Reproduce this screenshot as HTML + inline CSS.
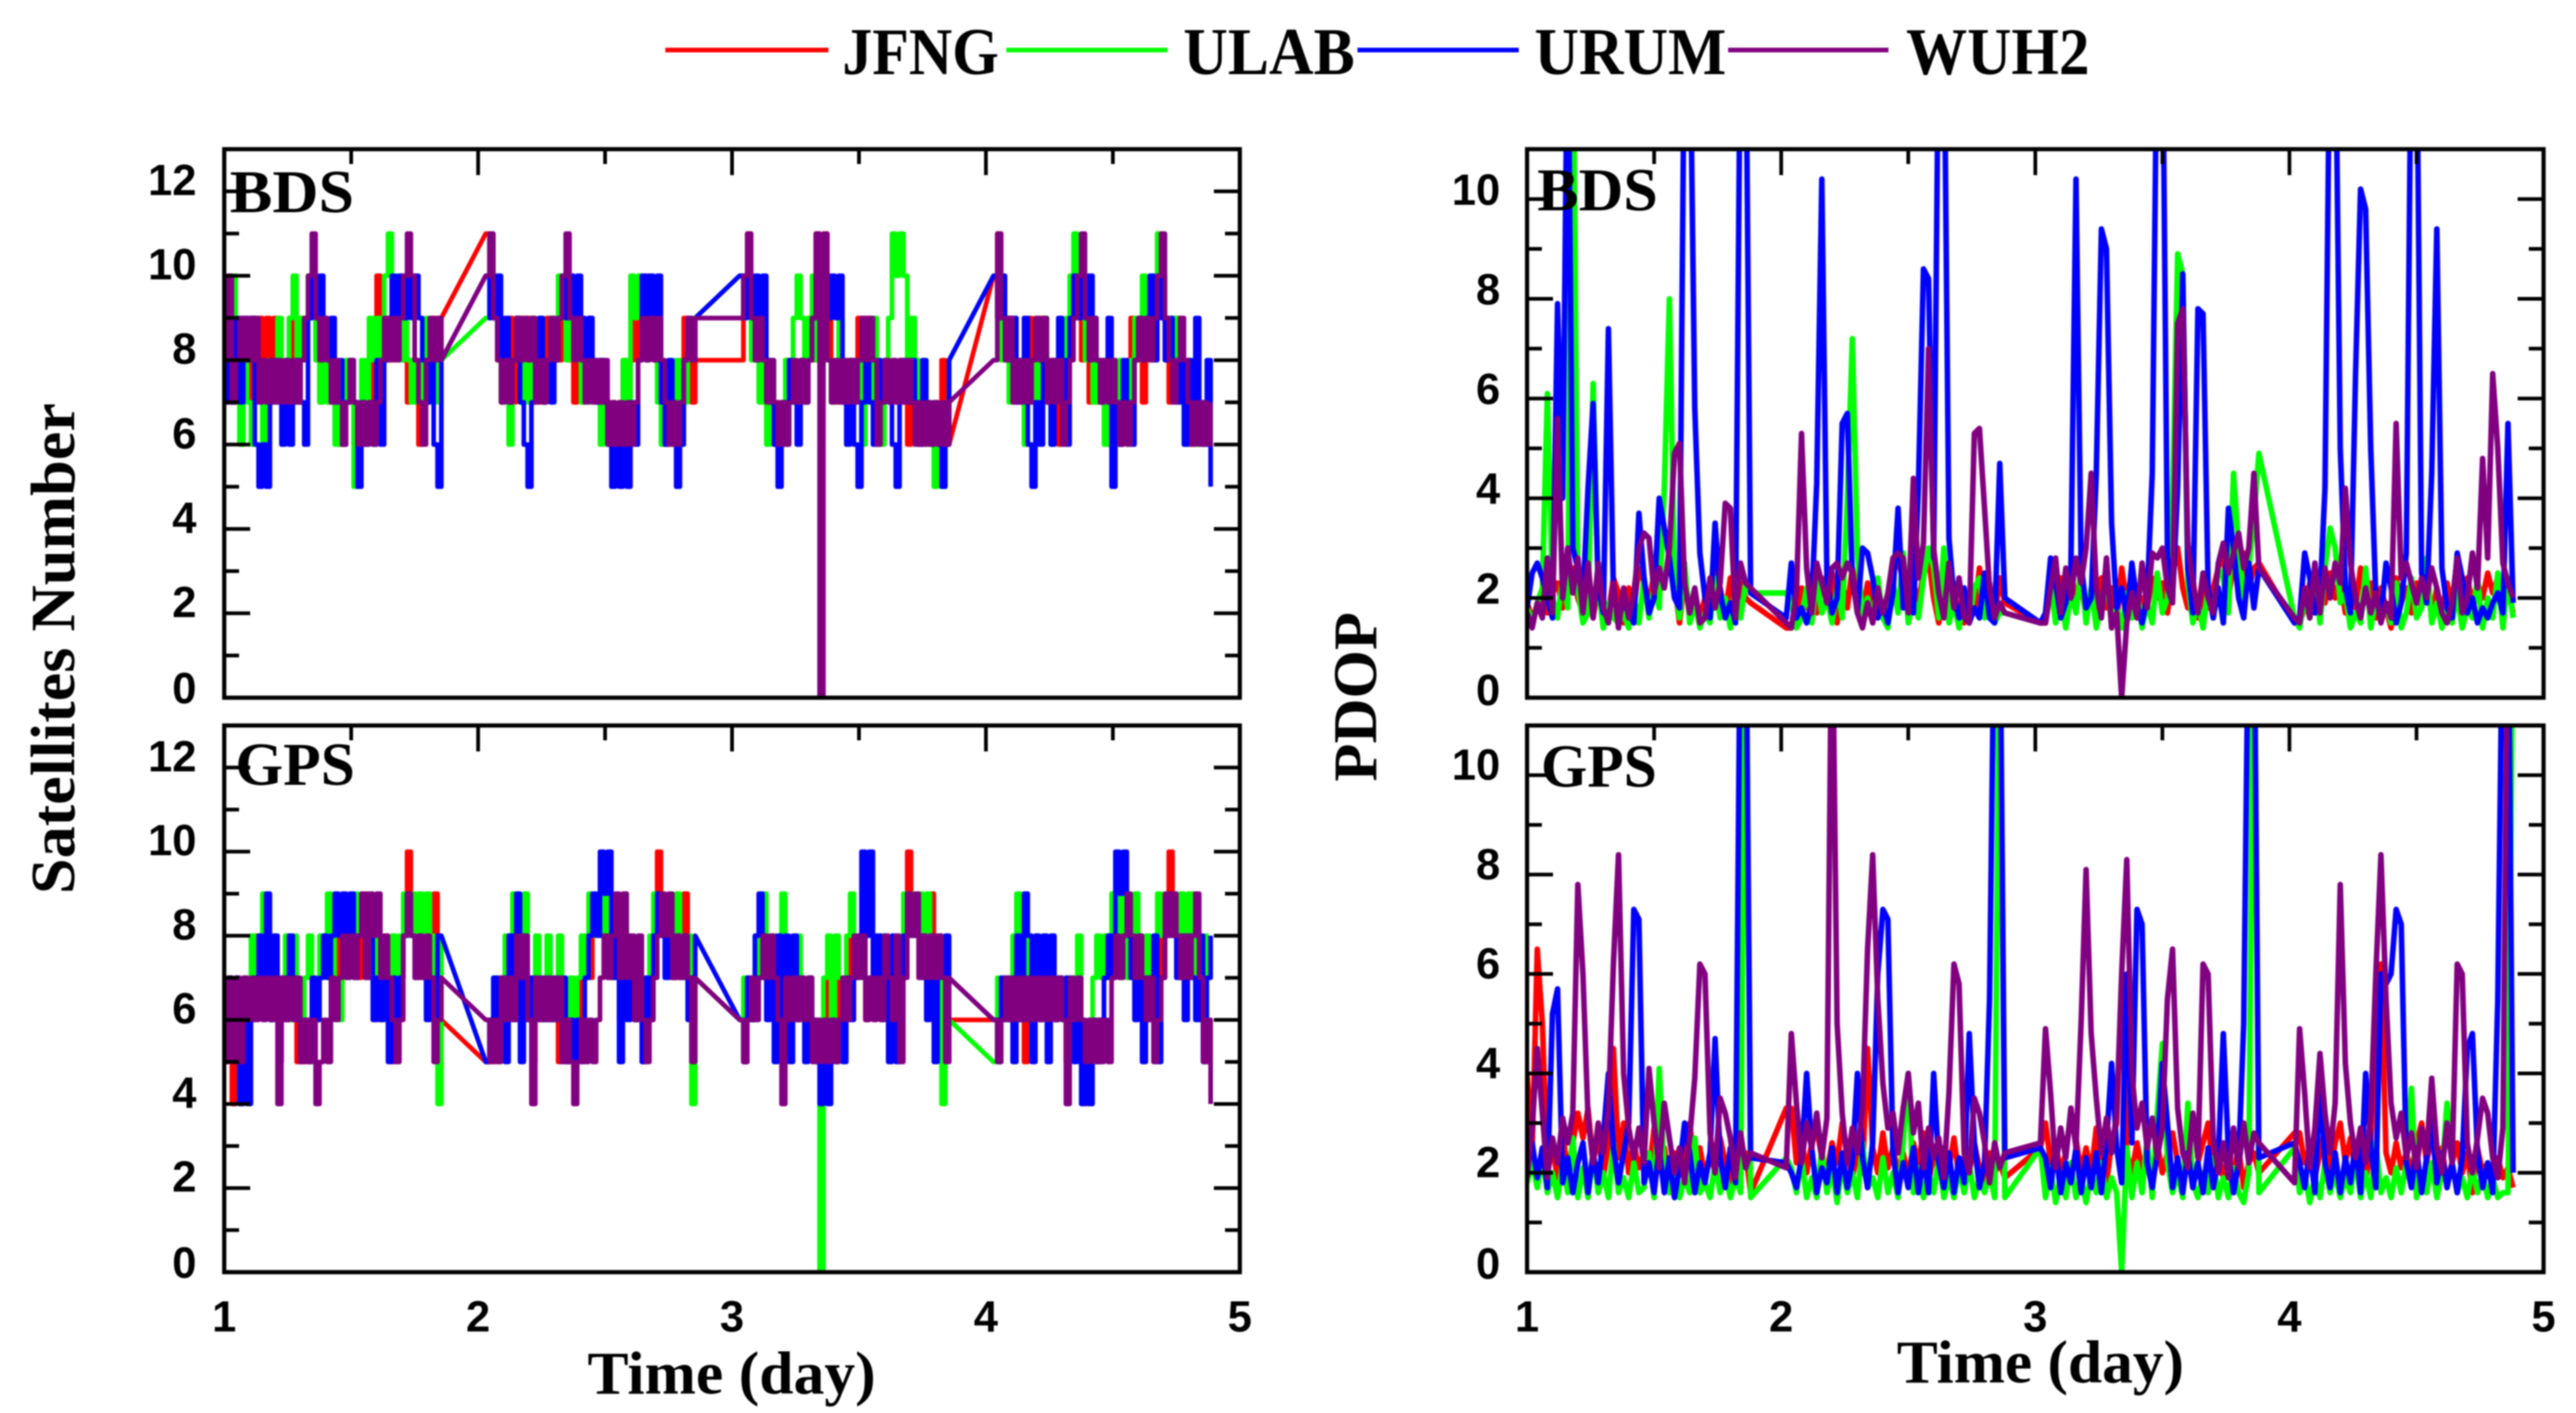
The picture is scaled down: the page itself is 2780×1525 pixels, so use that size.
<!DOCTYPE html>
<html lang="en">
<head>
<meta charset="utf-8">
<title>BDS and GPS satellite number and PDOP</title>
<style>
html,body{margin:0;padding:0;background:#fff}
body{width:2780px;height:1525px;overflow:hidden}
svg{display:block;filter:blur(0.7px)}
.serif{font-family:"Liberation Serif",serif;font-weight:bold;fill:#000}
</style>
</head>
<body>
<svg id="chart" xmlns="http://www.w3.org/2000/svg" width="2780" height="1525" viewBox="0 0 2780 1525">
<rect x="0" y="0" width="2780" height="1525" fill="#fff"/>
<g id="panels"></g>
<g>
<line x1="718" y1="54" x2="894" y2="54" stroke="#ff0000" stroke-width="5"/>
<text class="serif" x="909" y="80" font-size="72" textLength="169" lengthAdjust="spacingAndGlyphs">JFNG</text>
<line x1="1086" y1="54" x2="1260" y2="54" stroke="#00ff00" stroke-width="5"/>
<text class="serif" x="1277" y="80" font-size="72" textLength="185" lengthAdjust="spacingAndGlyphs">ULAB</text>
<line x1="1465" y1="54" x2="1639" y2="54" stroke="#0000ff" stroke-width="5"/>
<text class="serif" x="1656" y="80" font-size="72" textLength="207" lengthAdjust="spacingAndGlyphs">URUM</text>
<line x1="1865" y1="54" x2="2038" y2="54" stroke="#800080" stroke-width="5"/>
<text class="serif" x="2057" y="80" font-size="72" textLength="198" lengthAdjust="spacingAndGlyphs">WUH2</text>
</g>
<text class="serif" x="248" y="229" font-size="66" textLength="134" lengthAdjust="spacingAndGlyphs">BDS</text>
<text class="serif" x="1659" y="227" font-size="66" textLength="130" lengthAdjust="spacingAndGlyphs">BDS</text>
<text class="serif" x="254" y="847" font-size="66" textLength="129" lengthAdjust="spacingAndGlyphs">GPS</text>
<text class="serif" x="1663" y="849" font-size="66" textLength="125" lengthAdjust="spacingAndGlyphs">GPS</text>
<text class="serif" transform="translate(80 700) rotate(-90)" text-anchor="middle" font-size="68" textLength="530" lengthAdjust="spacingAndGlyphs">Satellites Number</text>
<text class="serif" transform="translate(1485 752) rotate(-90)" text-anchor="middle" font-size="67" textLength="183" lengthAdjust="spacingAndGlyphs">PDOP</text>
<text class="serif" x="634" y="1504" font-size="66" textLength="311" lengthAdjust="spacingAndGlyphs">Time (day)</text>
<text class="serif" x="2047" y="1492" font-size="66" textLength="310" lengthAdjust="spacingAndGlyphs">Time (day)</text>
</svg>
<script>
const seriesNames = ['JFNG', 'ULAB', 'URUM', 'WUH2'];
const dayTicks = [1, 2, 3, 4, 5];
const dayMinorTicks = [1.5, 2.5, 3.5, 4.5];
const satTicks = [0, 2, 4, 6, 8, 10, 12];
const satMinorTicks = [1, 3, 5, 7, 9, 11];
const pdopTicks = [0, 2, 4, 6, 8, 10];
const pdopMinorTicks = [1, 3, 5, 7, 9];

const satDays = [
1,1.015,1.03,1.045,1.06,1.075,1.09,1.105,1.12,1.135,1.15,1.165,1.18,1.195,1.21,1.225,1.24,1.255,1.27,1.285,1.3,1.315,1.33,1.345,1.36,1.375,1.39,1.405,1.42,1.435,1.45,1.465,1.48,1.495,1.51,1.525,1.54,1.555,1.57,1.585,1.6,1.615,1.63,1.645,1.66,1.675,1.69,1.705,1.72,1.735,1.75,1.765,1.78,1.795,1.81,1.825,1.84,1.855,
2.03,2.045,2.06,2.075,2.09,2.105,2.12,2.135,2.15,2.165,2.18,2.195,2.21,2.225,2.24,2.255,2.27,2.285,2.3,2.315,2.33,2.345,2.36,2.375,2.39,2.405,2.42,2.435,2.45,2.465,2.48,2.495,2.51,2.525,2.54,2.555,2.57,2.585,2.6,2.615,2.63,2.645,2.66,2.675,2.69,2.705,2.72,2.735,2.75,2.765,2.78,2.795,2.81,2.825,2.84,2.855,
3.03,3.045,3.06,3.075,3.09,3.105,3.12,3.135,3.15,3.165,3.18,3.195,3.21,3.225,3.24,3.255,3.27,3.285,3.3,3.315,3.33,3.345,3.36,3.375,3.39,3.405,3.42,3.435,3.45,3.465,3.48,3.495,3.51,3.525,3.54,3.555,3.57,3.585,3.6,3.615,3.63,3.645,3.66,3.675,3.69,3.705,3.72,3.735,3.75,3.765,3.78,3.795,3.81,3.825,3.84,3.855,
4.03,4.045,4.06,4.075,4.09,4.105,4.12,4.135,4.15,4.165,4.18,4.195,4.21,4.225,4.24,4.255,4.27,4.285,4.3,4.315,4.33,4.345,4.36,4.375,4.39,4.405,4.42,4.435,4.45,4.465,4.48,4.495,4.51,4.525,4.54,4.555,4.57,4.585,4.6,4.615,4.63,4.645,4.66,4.675,4.69,4.705,4.72,4.735,4.75,4.765,4.78,4.795,4.81,4.825,4.84,4.855,4.87,4.885];

const pdopDays = [
1,1.02,1.04,1.06,1.08,1.1,1.12,1.14,1.16,1.18,1.2,1.22,1.24,1.26,1.28,1.3,1.32,1.34,1.36,1.38,1.4,1.42,1.44,1.46,1.48,1.5,1.52,1.54,1.56,1.58,1.6,1.62,1.64,1.66,1.68,1.7,1.72,1.74,1.76,1.78,1.8,1.82,1.84,1.86,1.88,
2.02,2.04,2.06,2.08,2.1,2.12,2.14,2.16,2.18,2.2,2.22,2.24,2.26,2.28,2.3,2.32,2.34,2.36,2.38,2.4,2.42,2.44,2.46,2.48,2.5,2.52,2.54,2.56,2.58,2.6,2.62,2.64,2.66,2.68,2.7,2.72,2.74,2.76,2.78,2.8,2.82,2.84,2.86,2.88,
3.02,3.04,3.06,3.08,3.1,3.12,3.14,3.16,3.18,3.2,3.22,3.24,3.26,3.28,3.3,3.32,3.34,3.36,3.38,3.4,3.42,3.44,3.46,3.48,3.5,3.52,3.54,3.56,3.58,3.6,3.62,3.64,3.66,3.68,3.7,3.72,3.74,3.76,3.78,3.8,3.82,3.84,3.86,3.88,
4.02,4.04,4.06,4.08,4.1,4.12,4.14,4.16,4.18,4.2,4.22,4.24,4.26,4.28,4.3,4.32,4.34,4.36,4.38,4.4,4.42,4.44,4.46,4.48,4.5,4.52,4.54,4.56,4.58,4.6,4.62,4.64,4.66,4.68,4.7,4.72,4.74,4.76,4.78,4.8,4.82,4.84,4.86,4.88];

const bdsSatJFNG = [
8,7,9,8,7,8,7,9,8,9, 7,9,8,9,8,7,8,9,8,7, 9,8,9,10,8,7,8,7,8,7, 6,7,8,7,6,7,6,7,8,7, 10,9,8,9,8,10,9,8,7,8, 7,6,8,7,8,9,8,9,
11,10,9,8,7,8,9,7,8,9, 8,9,7,8,7,8,9,8,9,8, 10,9,8,7,8,7,8,9,8,7, 8,7,6,7,6,7,8,7,8,9, 8,9,10,9,8,9,7,6,7,6, 7,8,9,8,7,8,
8,10,11,9,8,9,7,8,7,6, 7,6,8,7,8,7,8,7,9,8, 11,10,11,9,8,7,8,7,8,7, 8,9,8,9,8,7,6,7,8,7, 8,7,8,7,6,7,8,6,7,6, 7,6,7,8,7,6,
10,11,9,8,9,7,8,7,8,9, 7,8,9,8,7,8,7,6,7,8, 9,10,9,8,9,7,8,7,8,7, 6,8,7,6,7,8,9,8,9,7, 8,9,10,11,9,8,7,8,9,8, 7,6,7,6,7,6,7,6];
const bdsSatULAB = [
8,9,10,7,6,8,7,6,8,7, 6,8,7,8,9,7,8,9,10,8, 9,8,10,9,8,7,8,7,8,6, 7,6,8,7,5,6,8,7,9,8, 9,8,10,11,9,10,8,9,8,7, 8,7,8,9,8,7,8,8,
9,11,10,8,7,8,6,8,9,7, 8,7,9,8,9,7,8,9,8,10, 9,8,10,9,8,7,8,7,8,7, 6,7,6,7,6,7,8,7,10,9, 10,9,8,10,9,7,6,7,8,7, 8,6,7,8,9,9,
10,9,10,8,9,7,8,6,8,7, 6,7,8,7,9,10,9,8,9,10, 8,7,9,8,7,8,9,8,7,8, 7,8,6,8,7,9,8,6,8,9, 11,10,11,10,8,9,8,7,8,6, 7,5,6,5,7,8,
10,9,8,9,7,8,7,8,6,7, 8,7,8,9,7,6,7,8,7,9, 10,11,10,9,8,9,7,8,7,6, 8,7,6,8,7,6,8,9,8,10, 9,8,10,11,10,9,8,9,8,7, 6,8,7,6,7,6,7,7];
const bdsSatURUM = [
7,9,7,9,7,9,8,9,6,5, 6,5,7,8,7,6,8,6,7,8, 7,6,9,10,9,10,9,8,9,7, 8,6,7,8,7,5,7,6,7,6, 8,6,8,9,10,9,10,9,10,9, 10,9,8,7,8,6,5,8,
10,9,9,10,8,9,7,8,9,7, 6,5,7,8,9,7,8,7,8,9, 10,9,10,9,10,9,8,9,8,7, 8,7,6,5,6,5,6,5,7,6, 8,10,9,10,9,10,7,6,8,7, 5,6,8,9,8,9,
10,9,10,9,10,9,10,8,7,6, 5,7,6,8,7,6,8,7,8,9, 10,9,10,9,10,9,10,7,6,8, 6,5,7,8,7,6,8,7,8,7, 6,5,7,8,7,8,7,6,8,7, 6,7,6,5,6,8,
10,9,10,9,8,9,7,8,9,6, 5,7,6,8,7,6,8,9,8,6, 9,10,9,10,9,10,9,8,7,8, 9,5,7,6,8,7,6,8,9,8, 9,10,8,10,9,8,9,8,7,8, 6,8,7,9,7,6,8,5];
const bdsSatWUH2 = [
8,10,7,8,9,8,9,8,9,7, 8,7,8,7,8,7,8,7,8,7, 8,9,10,11,9,8,9,8,7,8, 7,6,7,8,7,6,7,6,7,6, 7,8,9,8,9,8,9,10,11,10, 8,7,6,8,9,8,9,8,
10,11,9,8,7,8,7,8,9,8, 9,8,9,7,8,7,8,9,8,9, 10,11,9,8,9,8,7,8,7,8, 7,8,6,7,6,7,6,7,6,7, 8,9,8,9,8,9,8,7,6,7, 6,7,8,9,8,9,
9,10,11,9,8,9,8,7,8,7, 6,7,6,7,8,7,8,7,8,9, 11,0,11,8,7,8,7,8,7,8, 7,8,9,8,9,8,6,7,8,7, 8,7,8,7,8,7,6,7,6,7, 6,7,6,7,6,7,
8,11,9,8,9,7,8,7,8,7, 8,9,8,9,7,8,7,8,6,7, 8,9,10,11,9,8,9,8,7,8, 7,8,7,6,7,6,7,8,9,8, 9,8,9,10,11,9,8,7,8,9, 8,7,6,7,6,7,6,7];

const gpsSatJFNG = [
5,7,4,5,6,7,6,7,8,7, 8,7,6,7,5,7,6,7,6,5, 6,5,6,7,6,7,8,7,8,7, 8,7,8,9,8,7,8,9,8,7, 6,7,8,6,5,6,7,8,10,9, 8,7,8,7,8,9,7,6,
5,6,5,7,6,7,8,7,8,7, 6,7,5,7,6,7,6,7,6,5, 6,5,6,5,6,7,8,7,8,9, 8,9,7,8,7,6,7,8,7,6, 7,5,6,7,8,10,9,8,7,8, 7,8,9,7,6,7,
6,5,7,6,7,8,7,8,7,6, 7,6,7,6,7,6,7,6,7,6, 5,6,5,7,6,5,7,6,7,8, 7,8,7,6,7,8,7,8,7,6, 7,6,7,8,10,9,8,7,8,7, 9,8,7,6,5,6,
6,5,6,7,6,7,6,7,5,7, 6,7,6,7,6,7,6,7,6,5, 6,7,6,5,4,5,6,5,6,7, 8,7,8,7,8,7,8,7,8,7, 6,7,6,8,7,9,10,9,8,7, 8,7,9,8,6,7,5,6];
const gpsSatULAB = [
6,7,6,7,5,6,7,8,7,8, 9,7,6,8,6,7,8,6,8,7, 6,7,8,7,6,8,7,9,8,7, 6,8,7,8,9,8,9,8,9,8, 7,6,7,6,8,7,8,9,8,9, 8,9,8,9,8,7,4,8,
5,6,7,6,7,8,6,9,8,7, 9,6,7,8,7,6,8,6,7,8, 7,6,7,6,7,8,7,9,8,9, 8,9,8,7,8,7,9,8,7,6, 7,6,7,8,9,8,9,8,9,8, 9,8,7,8,4,7,
6,7,6,7,8,7,9,8,7,8, 7,9,7,6,7,8,7,6,7,6, 5,0,7,8,6,8,7,6,8,9, 7,8,7,8,9,8,7,8,7,6, 7,8,7,9,8,9,8,9,8,9, 8,7,8,4,7,6,
5,7,6,7,6,8,9,8,7,8, 7,8,7,8,7,8,6,7,6,7, 6,7,8,6,5,6,7,8,7,8, 7,9,8,9,8,7,8,9,8,7, 8,7,8,9,8,9,8,9,8,9, 8,9,8,7,6,8,5,6];
const gpsSatURUM = [
6,7,6,7,4,6,4,6,7,8, 7,9,6,8,5,7,6,8,7,6, 5,6,5,7,6,7,8,7,8,9, 8,9,8,9,7,8,9,7,8,6, 7,6,7,5,7,6,7,8,9,8, 7,8,7,6,7,6,8,8,
5,6,7,6,7,5,8,6,9,5, 8,6,7,6,7,6,7,6,7,6, 7,5,6,5,6,5,7,8,9,8, 10,9,10,7,8,5,8,6,7,6, 7,5,7,6,8,9,8,7,8,7, 8,7,8,6,7,8,
6,5,7,6,8,9,8,6,8,5, 8,6,8,5,8,6,7,5,7,6, 5,4,5,4,6,5,6,5,7,6, 7,8,10,8,10,7,8,6,8,5, 8,5,7,8,9,8,9,8,7,6, 8,5,8,7,8,7,
6,5,7,6,7,5,8,6,9,8, 5,8,6,8,5,8,6,7,6,7, 6,5,6,4,5,4,6,5,6,7, 8,7,10,9,10,8,7,6,8,5, 7,6,8,5,7,8,9,8,7,8, 6,8,7,6,8,5,7,8];
const gpsSatWUH2 = [
5,7,5,7,5,7,6,7,6,7, 6,7,6,7,4,7,6,7,6,7, 5,6,5,6,4,5,6,5,7,6, 7,8,7,8,7,8,9,7,9,8, 9,7,8,7,6,5,6,8,9,8, 7,8,7,8,7,5,6,7,
6,5,6,5,7,6,7,6,8,7, 8,6,4,7,6,7,6,7,6,7, 5,6,5,4,5,6,5,6,5,6, 7,8,7,8,9,7,9,7,8,6, 8,6,5,6,7,8,9,8,9,7, 8,7,8,7,5,7,
6,5,6,7,6,7,8,7,8,7, 6,4,7,6,7,6,7,6,7,5, 6,5,6,5,6,5,6,7,6,7, 8,7,8,6,7,6,7,6,8,7, 6,8,5,7,9,8,9,7,8,7, 8,7,8,7,5,7,
6,5,6,7,6,7,6,7,6,7, 6,7,6,7,6,7,6,7,6,4, 7,6,7,6,5,6,5,6,5,6, 5,7,8,7,8,9,8,7,8,7, 6,7,5,6,7,9,8,9,8,7, 8,7,8,9,7,5,6,4];

const bdsPdopJFNG = [
1.9,1.6,1.8,2.2,1.7,2.1,2.3,1.8,2.4,2.6,2.0,1.7,2.2,1.6,2.3,1.9,1.7,2.4,2.1,1.5,2.2,1.8,2.6,2.3,1.9,2.5,2.1,2.4,2.6,2.3,1.5,2.4,1.8,2.1,1.6,2.0,1.7,2.6,2.2,1.7,2.4,1.6,2.3,2.0,1.9,
1.4,1.4,1.7,2.2,1.8,2.3,1.7,2.4,2.0,2.5,1.5,2.3,1.8,2.6,2.1,1.7,2.3,1.6,2.1,1.8,1.6,2.5,2.8,2.3,1.7,2.3,1.9,2.5,2.8,2.0,1.5,2.4,1.8,2.2,1.6,1.5,2.1,1.7,2.6,1.8,2.3,1.6,2.4,1.9,
1.5,1.5,2.2,1.8,2.4,1.7,2.5,2.0,2.3,1.6,2.1,1.7,2.4,1.8,2.2,1.5,2.6,1.9,2.3,1.6,2.0,1.8,2.4,2.0,2.3,1.7,2.5,3.0,2.2,1.8,2.4,1.6,2.1,1.8,2.2,2.6,2.9,2.0,2.7,2.4,2.9,2.2,2.6,2.7,
1.5,1.5,1.8,2.3,1.7,2.2,1.9,2.5,2.0,2.4,1.7,2.2,1.8,2.6,1.9,2.3,1.6,2.2,1.8,1.4,2.4,1.9,2.2,1.7,2.3,1.8,2.5,1.6,2.2,1.7,2.3,1.8,2.1,1.6,2.4,1.9,2.3,2.0,2.5,2.1,2.4,1.8,2.2,1.7];
const bdsPdopULAB = [
1.8,1.5,1.9,2.2,6.1,2.0,1.6,2.4,1.8,14,2.2,1.5,1.7,6.3,2.2,1.4,1.9,1.6,1.5,1.7,1.4,2.0,1.5,2.4,1.6,2.2,1.8,4.2,8.0,2.3,1.6,2.7,1.5,1.9,1.4,1.7,1.5,2.4,1.6,2.0,1.4,2.2,1.6,2.3,2.1,
2.1,1.9,1.4,1.6,2.2,1.5,2.4,1.7,2.0,1.5,2.2,1.6,4.0,7.2,2.9,1.6,2.0,1.5,2.4,1.6,1.4,2.3,1.7,2.9,1.5,2.0,1.6,2.4,3.0,2.6,1.6,3.0,1.5,1.9,1.4,2.1,1.5,2.2,2.4,1.6,2.0,1.5,1.7,1.7,
1.5,1.6,2.3,1.5,2.0,1.4,2.1,1.7,2.6,1.5,2.2,1.4,1.9,2.4,1.5,1.8,1.4,2.1,1.6,2.2,1.4,1.9,1.5,2.5,1.7,2.0,4.0,8.9,8.5,2.3,1.5,1.9,1.4,2.2,1.6,2.6,2.4,1.7,4.5,3.0,2.0,2.6,3.6,4.9,
1.6,1.4,2.0,1.6,2.4,1.5,2.6,3.4,3.0,1.9,2.1,1.4,1.7,1.5,2.6,1.4,2.0,1.6,1.9,1.5,2.3,1.4,1.7,2.4,1.6,1.8,2.8,1.5,1.9,1.4,1.8,1.5,2.1,1.4,1.8,1.6,2.4,1.4,2.0,1.6,2.5,1.4,2.4,1.6];
const bdsPdopURUM = [
1.8,2.5,2.7,2.4,2.0,1.6,7.9,4,14,3,2.6,2.0,4.2,5.9,2.2,1.7,7.4,2.1,1.6,1.9,1.7,1.5,3.7,2.4,1.7,2,4,3.4,2.8,2.0,1.8,14,14,5.8,2.9,2,1.6,3.5,2.1,1.6,1.9,1.5,14,14,2.1,
1.6,2.7,1.6,1.8,1.5,1.9,4.3,10.4,2.4,1.7,2,5.5,5.7,2.4,1.7,3,2.9,2.4,1.6,1.9,1.5,2.1,3.8,1.8,2.2,1.7,4.2,8.6,8.4,2.8,14,14,3.2,2.0,1.6,2.2,1.5,1.8,1.6,2.5,1.6,1.5,4.7,2.0,
1.5,1.7,2.8,2.3,1.6,1.9,2.6,10.4,2.7,1.8,2.0,4.5,9.4,9.0,3.5,1.8,2.2,1.6,2.7,1.9,1.5,2.0,4.5,14,14,2.8,2.0,4.2,8.5,2.6,1.7,7.8,7.7,2.2,1.6,2.2,1.5,3.8,3.0,2.0,1.6,2.7,1.8,2.6,
1.5,1.6,2.9,2.4,1.7,2.0,4.2,14,14,5,2.2,1.7,6.5,10.2,9.8,5.0,2.0,1.6,2.7,2.2,1.5,1.9,2.9,14,14,2.5,1.9,4.5,9.4,2.6,1.8,1.6,2.9,2.4,1.7,2.0,1.5,1.8,1.6,1.9,2.1,1.7,5.5,1.9];
const bdsPdopWUH2 = [
1.7,1.4,1.9,1.6,2.8,1.7,5.6,2.0,3.0,2.1,2.8,1.7,2.7,1.6,2.7,1.8,1.5,2.3,1.4,2.2,1.6,2.1,3.0,3.3,3.2,2.1,2.6,2.2,3.0,4.9,5.1,2.3,1.7,2.2,1.5,1.6,2.4,1.8,2.3,3.9,3.8,1.6,2.7,2.3,2.2,
1.5,1.4,2.1,5.3,2.6,1.7,2.7,2.3,1.9,2.6,2.7,2.4,2.7,2.5,1.7,1.4,1.9,1.5,2.2,1.7,2.1,2.8,2.9,2.8,1.7,4.4,2.4,3.1,7.0,3.0,2.1,1.6,2.7,1.8,2.4,1.6,1.5,5.3,5.4,3.8,2.2,1.6,1.9,1.7,
1.5,1.5,2.2,2.8,1.7,2.6,2.0,2.8,2.3,3.0,4.5,2.2,1.6,2.8,1.4,1.7,0,1.5,2.1,1.6,2.7,1.8,2.9,2.8,3.0,2.2,1.9,7.5,7.8,3.1,2.3,1.7,2.5,2.0,1.7,2.7,3.1,2.5,2.9,3.3,2.6,3.0,4.5,2.6,
1.6,1.5,2.2,1.6,2.7,1.7,2.6,2.0,2.7,2.3,4.2,2.7,2.0,1.6,2.2,1.7,2.1,1.5,1.9,1.6,5.5,2.4,2.7,2.3,1.9,2.4,2.0,2.6,2.2,1.7,1.5,1.9,2.8,1.7,2.0,2.9,2.2,4.8,2.8,6.5,5.0,2.7,2.3,2.0];

const gpsPdopJFNG = [
4.0,2.4,6.5,5.0,2.1,2.5,1.9,2.8,2.0,2.6,3.2,2.7,3.3,2.2,2.8,1.9,2.6,4.5,2.3,3.0,2.0,2.6,2.1,2.4,2.0,2.9,2.1,2.5,1.8,2.4,2.0,2.3,3.0,2.1,2.5,1.9,2.4,2.0,2.7,2.2,1.8,2.5,2.1,2.4,1.6,
3.3,3.3,2.2,2.7,2.0,2.6,2.9,2.3,2.0,2.6,2.2,3.0,2.4,1.9,2.4,2.0,4.5,2.5,2.0,2.8,2.1,2.5,2.0,2.4,1.9,2.6,2.2,2.8,1.8,2.4,2.0,2.5,2.1,2.7,1.9,2.3,2.0,2.6,2.1,1.8,2.4,2.0,2.2,1.9,
2.5,3.0,2.2,2.6,2.0,2.4,3.2,2.7,2.0,2.5,2.0,2.9,2.2,1.8,2.6,3.0,5.8,2.4,2.0,2.6,2.1,2.4,1.9,2.6,2.0,2.4,2.8,2.2,1.9,2.5,1.8,2.2,2.6,3.0,2.0,2.4,1.9,2.3,2.0,2.5,1.7,2.2,2.4,2.0,
2.8,2.8,2.2,2.5,1.9,2.4,2.9,2.0,2.6,3.0,2.2,2.7,2.0,2.5,1.8,2.6,5.0,6.2,2.4,2.0,2.6,2.1,2.4,2.0,2.6,3.0,2.2,2.8,2.0,2.5,1.8,2.2,2.6,2.0,2.4,1.6,2.5,2.0,2.2,1.8,2.3,1.9,2.1,1.7];
const gpsPdopULAB = [
1.8,2.2,1.7,2.3,1.6,2.0,1.5,2.2,1.6,2.7,1.5,2.1,1.5,2.4,1.6,2.0,1.5,2.6,1.6,1.9,1.5,2.2,1.6,1.7,2.4,1.5,4.1,2.0,1.6,2.3,1.5,1.9,1.6,2.7,1.6,1.8,1.5,2.2,1.6,2.0,1.5,1.9,1.6,14,1.5,
2.3,2.1,1.6,2.3,1.5,1.9,1.5,2.5,1.6,2.1,1.4,2.2,1.6,2.0,1.5,2.6,1.7,1.9,1.5,2.3,1.6,2.0,1.5,2.6,4.0,1.6,2.1,1.5,2.0,1.6,2.3,1.5,1.9,1.5,2.1,1.6,2.2,1.5,1.9,1.6,2.0,1.5,14,1.5,
2.5,1.5,2.1,1.4,1.9,1.5,2.2,1.5,1.9,1.4,2.0,1.6,2.2,1.5,1.9,1.6,0,2.5,1.5,2.2,1.6,2.7,1.5,3.2,4.6,2.2,1.6,2.0,1.5,3.4,1.8,1.5,2.0,1.6,2.3,1.5,1.9,1.5,2.1,1.6,1.4,2.0,14,1.6,
2.5,1.6,2.0,1.4,1.9,1.5,2.2,1.6,2.0,1.5,1.9,1.6,2.3,1.5,2.0,1.5,2.6,1.6,1.9,1.5,2.1,1.6,2.2,3.7,1.5,2.0,1.6,2.2,1.5,2.0,3.4,2.2,1.6,1.9,1.5,2.1,1.6,2.0,1.5,1.9,1.5,1.6,1.6,14];
const gpsPdopURUM = [
2.1,2.6,1.9,2.5,1.7,5.2,5.7,1.8,2.3,1.6,2.2,2.6,1.6,2.4,1.8,2.7,4.0,2.5,1.8,2.4,3.0,7.3,7.1,1.8,2.2,1.6,2.5,1.6,2.3,1.5,2.1,3.0,2.4,1.6,2.2,1.8,2.4,4.7,2.3,1.7,2.5,1.8,14,14,2.3,
2.2,2.0,1.7,2.3,4.0,2.5,1.6,2.1,1.8,2.5,1.6,2.4,1.7,2.2,4.0,2.3,1.7,2.6,6.0,7.3,7.1,2.4,1.6,2.2,1.7,2.5,1.6,2.3,1.6,4.0,2.2,1.7,2.4,1.6,2.3,1.8,4.8,2.6,1.7,2.2,5.5,14,14,2.3,
2.5,2.3,1.7,2.5,1.6,2.2,1.8,2.5,1.6,2.3,1.7,2.4,1.6,2.6,4.2,2.5,1.8,6.0,2.6,7.3,7.0,2.2,1.7,2.4,4.2,3.0,1.7,2.3,1.6,2.4,1.7,2.2,1.6,2.5,1.7,2.3,4.8,2.4,1.6,2.2,5.0,14,14,2.3,
2.6,2.2,1.7,2.5,1.6,3.9,2.2,1.7,2.4,1.6,2.3,1.8,2.6,1.6,4.0,2.5,1.7,6.0,5.8,6.0,7.3,7.0,2.2,1.7,2.5,1.6,2.3,3.1,1.8,2.4,1.7,2.2,1.6,2.3,4.5,4.8,2.4,1.7,2.2,1.6,5.5,14,14,2.0];
const gpsPdopWUH2 = [
1.9,2.9,4.5,3.2,1.9,2.7,2.2,3.1,2.6,3.2,7.8,6.0,3.1,2.2,3.0,2.4,3.3,6.2,8.4,4.0,2.9,2.3,2.9,2.2,4.1,3.0,2.1,3.4,2.7,2.0,2.5,1.8,2.7,3.9,6.2,6.0,2.8,2.0,3.5,3.2,2.7,1.9,2.8,2.1,2.4,
2.1,4.8,3.4,2.2,3.0,2.5,3.2,2.3,3.1,14,5.0,3.2,2.2,2.9,2.4,3.3,6.5,8.4,5.5,3.8,2.9,3.2,2.4,3.3,4.0,2.8,3.4,2.1,2.9,2.3,2.7,1.9,3.6,6.2,5.8,2.4,2.0,3.5,3.2,2.6,1.8,2.6,2.1,2.4,
2.6,4.9,3.6,2.1,2.9,2.3,3.3,2.5,5.0,8.1,4.8,3.5,2.4,3.1,2.4,3.2,6.0,8.3,4.0,2.9,3.4,2.5,3.1,2.3,2.9,5.5,6.5,3.3,2.4,2.1,3.2,2.3,6.2,6.0,2.7,2.0,2.6,1.9,2.9,2.1,3.0,2.2,2.8,2.6,
1.8,4.9,3.6,2.1,2.9,4.4,3.2,2.4,3.4,7.8,4.2,3.0,2.3,2.9,2.2,3.2,6.0,8.4,5.5,3.4,2.7,3.2,2.3,2.8,2.1,2.9,2.4,3.9,2.5,2.0,3.0,2.2,6.2,6.0,2.6,2.0,2.7,3.5,3.2,2.3,1.9,2.9,14,14];

const seriesColors = ['#ff0000', '#00ff00', '#0000ff', '#800080'];
const panels = [
  {key:'bds-satellites', left:242, right:1338, top:161, bottom:753, yMax:13, major:satTicks, minor:satMinorTicks, days:satDays, step:true, lineWidth:5, labelOffset:4, xLabels:false, series:[bdsSatJFNG,bdsSatULAB,bdsSatURUM,bdsSatWUH2], labelRight:212},
  {key:'bds-pdop', left:1648, right:2745, top:161, bottom:753, yMax:11, major:pdopTicks, minor:pdopMinorTicks, days:pdopDays, step:false, lineWidth:6, labelOffset:6, xLabels:false, series:[bdsPdopJFNG,bdsPdopULAB,bdsPdopURUM,bdsPdopWUH2], labelRight:1619},
  {key:'gps-satellites', left:242, right:1338, top:783, bottom:1373, yMax:13, major:satTicks, minor:satMinorTicks, days:satDays, step:true, lineWidth:5, labelOffset:4, xLabels:true, series:[gpsSatJFNG,gpsSatULAB,gpsSatURUM,gpsSatWUH2], labelRight:212},
  {key:'gps-pdop', left:1648, right:2745, top:783, bottom:1373, yMax:11, major:pdopTicks, minor:pdopMinorTicks, days:pdopDays, step:false, lineWidth:6, labelOffset:5, xLabels:true, series:[gpsPdopJFNG,gpsPdopULAB,gpsPdopURUM,gpsPdopWUH2], labelRight:1619}
];

const SVG_NS = 'http://www.w3.org/2000/svg';
const GAP_DAYS = 0.05;
const MAJOR_LEN = 28;
const MINOR_LEN = 16;

function make(tag, attrs, parent) {
  const el = document.createElementNS(SVG_NS, tag);
  Object.keys(attrs).forEach(function (k) { el.setAttribute(k, attrs[k]); });
  parent.appendChild(el);
  return el;
}

function tickLine(parent, x1, y1, x2, y2, name) {
  const el = make('line', {x1:x1, y1:y1, x2:x2, y2:y2, stroke:'#000', 'stroke-width':4}, parent);
  
  
}

function tickText(parent, x, y, anchor, value, name) {
  const el = make('text', {x:x, y:y, 'text-anchor':anchor, 'font-family':'"Liberation Sans", sans-serif', 'font-weight':'bold', 'font-size':47, fill:'#000'}, parent);
  el.textContent = String(value);
  
  
}

function seriesPath(days, values, xScale, yScale, step) {
  const n = Math.min(days.length, values.length);
  let d = '';
  for (let i = 0; i < n; i++) {
    const x = xScale(days[i]).toFixed(1);
    const y = yScale(values[i]).toFixed(1);
    if (i === 0) {
      d += 'M' + x + ' ' + y;
    } else if (step && days[i] - days[i - 1] < GAP_DAYS) {
      d += 'H' + x + 'V' + y;
    } else {
      d += 'L' + x + ' ' + y;
    }
  }
  return d;
}

function drawPanel(p, root) {
  const xScale = function (d) { return p.left + (d - 1) / 4 * (p.right - p.left); };
  const yScale = function (v) { return p.bottom - v / p.yMax * (p.bottom - p.top); };

  const g = make('g', {}, root);
  
  

  const clip = make('clipPath', {id:'clip-' + p.key}, g);
  make('rect', {x:p.left, y:p.top, width:p.right - p.left, height:p.bottom - p.top}, clip);

  const lines = make('g', {'clip-path':'url(#clip-' + p.key + ')'}, g);
  
  
  p.series.forEach(function (values, s) {
    const path = make('path', {d:seriesPath(p.days, values, xScale, yScale, p.step), fill:'none', stroke:seriesColors[s], 'stroke-width':p.lineWidth, 'stroke-linejoin':'round'}, lines);
    
    
  });

  const frame = make('rect', {x:p.left, y:p.top, width:p.right - p.left, height:p.bottom - p.top, fill:'none', stroke:'#000', 'stroke-width':4.5}, g);
  
  

  p.major.forEach(function (v) {
    const y = yScale(v);
    if (v !== 0) {
      tickLine(g, p.left, y, p.left + MAJOR_LEN, y, 'y-tick-left-' + v);
      tickLine(g, p.right, y, p.right - MAJOR_LEN, y, 'y-tick-right-' + v);
    }
    tickText(g, p.labelRight, y + (v === 0 ? p.labelOffset + 2 : p.labelOffset), 'end', v, 'y-tick-label-' + v);
  });
  p.minor.forEach(function (v) {
    const y = yScale(v);
    tickLine(g, p.left, y, p.left + MINOR_LEN, y, 'y-minor-tick-left-' + v);
    tickLine(g, p.right, y, p.right - MINOR_LEN, y, 'y-minor-tick-right-' + v);
  });
  dayTicks.forEach(function (d) {
    const x = xScale(d);
    if (d !== 1 && d !== 5) {
      tickLine(g, x, p.top, x, p.top + MAJOR_LEN, 'x-tick-top-' + d);
    }
    if (p.xLabels) {
      tickText(g, x, 1437, 'middle', d, 'x-tick-label-' + d);
    }
  });
  dayMinorTicks.forEach(function (d) {
    const x = xScale(d);
    tickLine(g, x, p.top, x, p.top + MINOR_LEN, 'x-minor-tick-top-' + d);
  });
}

const panelRoot = document.getElementById('panels');
panels.forEach(function (p) { drawPanel(p, panelRoot); });
</script>
</body>
</html>
